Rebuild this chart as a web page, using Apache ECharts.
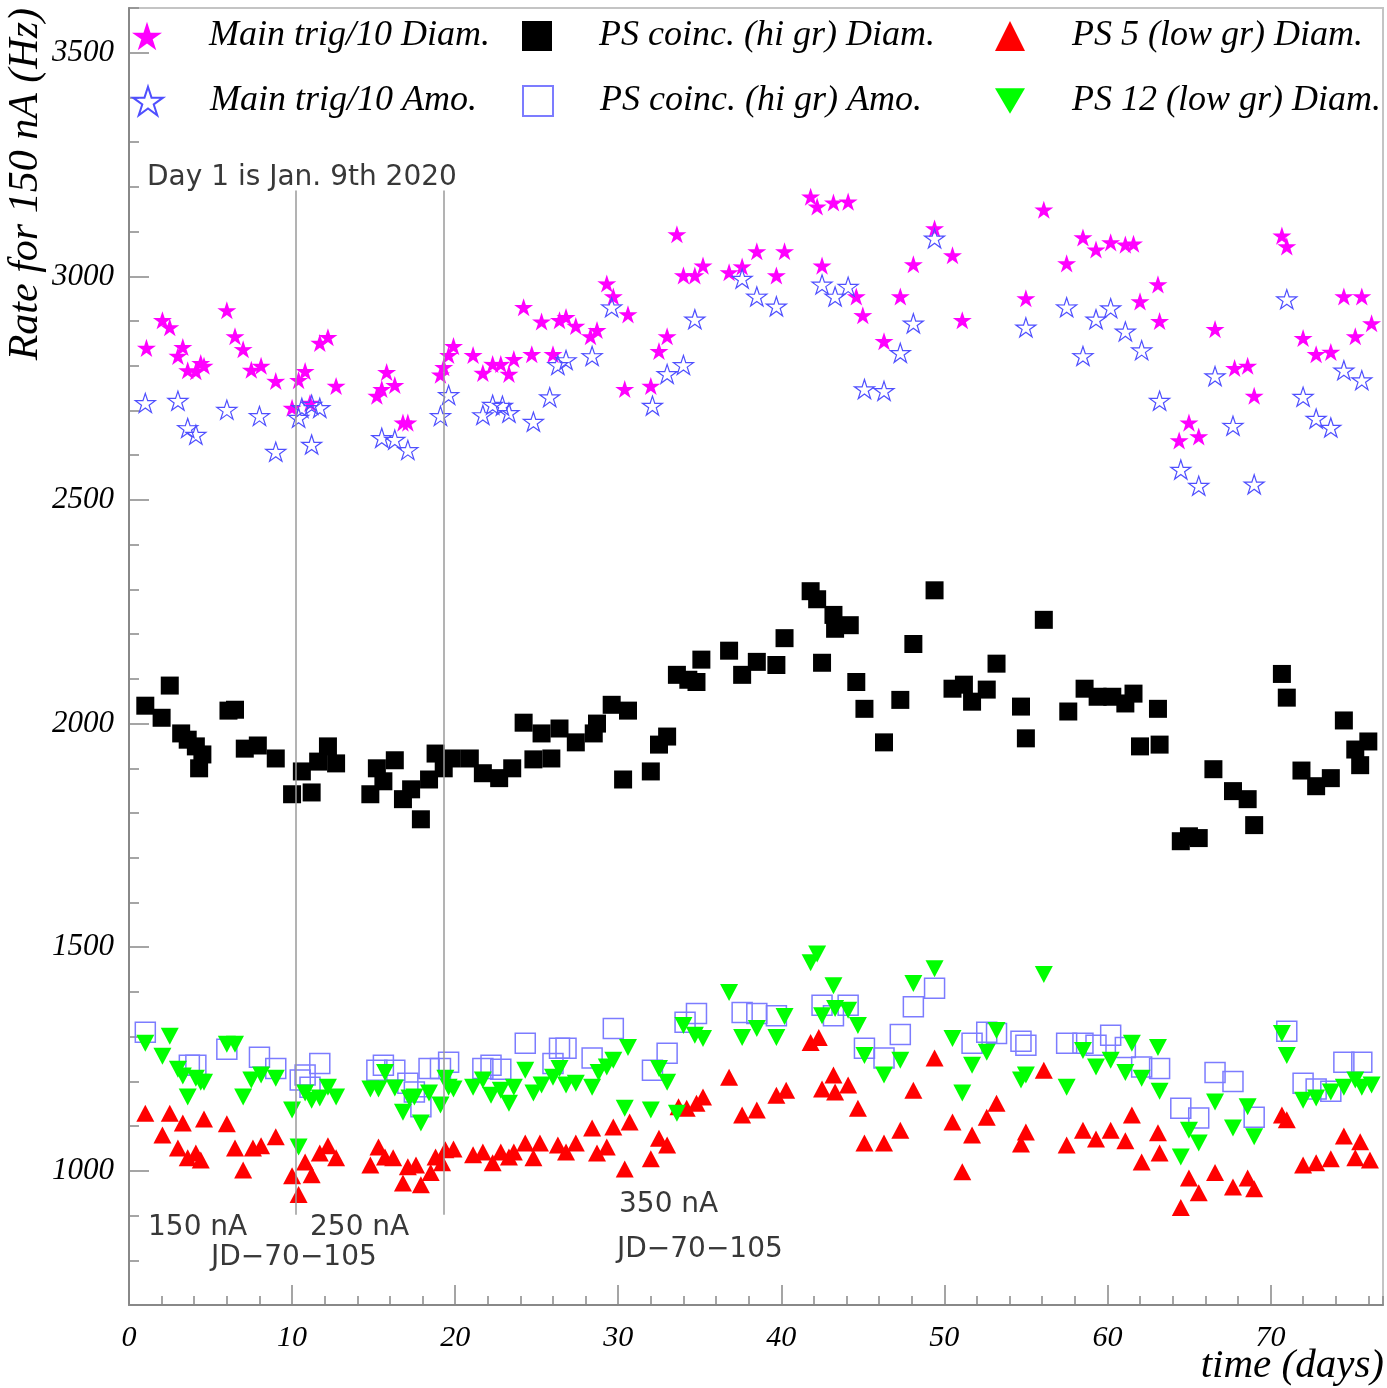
<!DOCTYPE html>
<html>
<head>
<meta charset="utf-8">
<title>Rate for 150 nA</title>
<script src="https://cdn.jsdelivr.net/npm/echarts@6/dist/echarts.min.js"></script>
<style>
  html, body { margin: 0; padding: 0; background: #fff; }
  #main { width: 1387px; height: 1388px; }
</style>
</head>
<body>
<div id="main"></div>
<script>
"use strict";

// [day, rate in Hz]
var mainDiam = [
  [1.07, 2840], [2.05, 2902], [2.5, 2886], [3.0, 2822], [3.3, 2842], [3.6, 2790], [4.1, 2788], [4.4, 2806], [4.6, 2800],
  [6.0, 2924], [6.5, 2866], [7.0, 2837], [7.5, 2791], [8.1, 2800], [9.0, 2766], [10.0, 2706], [10.4, 2768], [10.8, 2788],
  [11.1, 2717], [11.7, 2851], [12.2, 2864], [12.7, 2755], [15.2, 2733], [15.5, 2748], [15.8, 2786], [16.3, 2757],
  [16.8, 2673], [17.1, 2673], [19.1, 2780], [19.3, 2797], [19.6, 2824], [19.9, 2844], [21.1, 2824], [21.7, 2784],
  [22.3, 2804], [22.8, 2804], [23.3, 2782], [23.6, 2815], [24.2, 2931], [24.7, 2826], [25.3, 2899], [26.0, 2826],
  [26.4, 2902], [26.8, 2909], [27.4, 2889], [28.3, 2866], [28.7, 2880], [29.3, 2984], [29.7, 2955], [30.4, 2748],
  [30.6, 2915], [32.0, 2755], [32.5, 2833], [33.0, 2866], [33.6, 3094], [34.0, 3002], [34.7, 3002], [35.2, 3024],
  [36.8, 3009], [37.6, 3022], [38.5, 3056], [39.7, 3002], [40.2, 3056], [41.8, 3178], [42.2, 3156], [42.5, 3024],
  [43.2, 3165], [44.1, 3167], [44.6, 2955], [45.0, 2913], [46.3, 2855], [47.3, 2955], [48.1, 3027], [49.4, 3107],
  [50.5, 3047], [51.1, 2902], [55.0, 2951], [56.1, 3149], [57.5, 3029], [58.5, 3087], [59.3, 3060], [60.2, 3076],
  [61.1, 3071], [61.6, 3073], [62.0, 2944], [63.1, 2982], [63.2, 2900], [64.4, 2633], [65.0, 2673], [65.6, 2642],
  [66.6, 2882], [67.8, 2795], [68.6, 2800], [69.0, 2733], [70.7, 3091], [71.0, 3067], [72.0, 2862], [72.8, 2826],
  [73.7, 2831], [74.5, 2955], [75.2, 2866], [75.6, 2955], [76.2, 2895]
];

var mainAmo = [
  [1.0, 2717], [3.0, 2722], [3.6, 2661], [4.1, 2646], [6.0, 2702], [8.0, 2688], [9.0, 2608], [10.4, 2684], [10.6, 2706],
  [11.2, 2713], [11.2, 2624], [11.7, 2706], [15.5, 2639], [16.3, 2635], [17.1, 2612], [19.1, 2688], [19.6, 2735],
  [21.7, 2690], [22.3, 2713], [22.9, 2711], [23.3, 2695], [24.8, 2675], [25.8, 2730], [26.3, 2802], [26.8, 2813],
  [28.4, 2822], [29.6, 2931], [32.1, 2711], [33.0, 2782], [34.0, 2802], [34.7, 2904], [37.6, 2995], [38.5, 2955],
  [39.7, 2933], [42.5, 2982], [43.3, 2955], [44.1, 2977], [45.1, 2748], [46.3, 2744], [47.3, 2829], [48.1, 2895],
  [49.4, 3085], [55.0, 2886], [57.5, 2931], [58.5, 2822], [59.3, 2904], [60.2, 2929], [61.1, 2877], [62.1, 2835],
  [63.2, 2722], [64.5, 2568], [65.6, 2532], [66.6, 2777], [67.7, 2666], [69.0, 2535], [71.0, 2949], [72.0, 2731],
  [72.8, 2682], [73.7, 2662], [74.5, 2790], [75.6, 2768]
];

var psDiam = [
  [1.0, 2040], [2.0, 2013], [2.5, 2085], [3.2, 1978], [3.6, 1964], [4.1, 1949], [4.5, 1931], [4.3, 1900], [6.1, 2029],
  [6.5, 2031], [7.1, 1944], [7.9, 1951], [9.0, 1922], [10.0, 1842], [10.6, 1893], [11.2, 1846], [11.6, 1915],
  [12.2, 1949], [12.7, 1911], [14.8, 1842], [15.2, 1900], [15.6, 1871], [16.3, 1918], [16.8, 1831], [17.3, 1853],
  [17.9, 1786], [18.4, 1875], [18.8, 1933], [19.3, 1900], [19.8, 1922], [20.9, 1922], [21.7, 1889], [22.7, 1878],
  [23.5, 1900], [24.2, 2002], [24.8, 1920], [25.3, 1978], [25.9, 1922], [26.4, 1989], [27.4, 1958], [28.5, 1978],
  [28.7, 2000], [29.6, 2042], [30.3, 1875], [30.6, 2029], [32.0, 1893], [32.5, 1953], [33.0, 1971], [33.6, 2109],
  [34.3, 2098], [34.8, 2093], [35.1, 2143], [36.8, 2163], [37.6, 2109], [38.5, 2138], [39.7, 2131], [40.2, 2191],
  [41.8, 2296], [42.2, 2278], [42.5, 2136], [43.2, 2243], [43.3, 2212], [44.2, 2220], [44.6, 2093], [45.1, 2033],
  [46.3, 1958], [47.3, 2053], [48.1, 2178], [49.4, 2298], [50.5, 2078], [51.2, 2087], [51.7, 2049], [52.6, 2076],
  [53.2, 2134], [54.7, 2038], [55.0, 1967], [56.1, 2232], [57.6, 2027], [58.6, 2078], [59.4, 2060], [60.3, 2060],
  [61.1, 2045], [61.6, 2067], [62.0, 1949], [63.1, 2033], [63.2, 1953], [64.5, 1737], [65.0, 1748], [65.6, 1744],
  [66.5, 1898], [67.7, 1849], [68.6, 1831], [69.0, 1773], [70.7, 2111], [71.0, 2058], [71.9, 1895], [72.8, 1860],
  [73.7, 1878], [74.5, 2007], [75.2, 1942], [75.5, 1907], [76.0, 1960]
];

var psAmo = [
  [1.0, 1310], [3.7, 1236], [4.1, 1236], [6.0, 1272], [8.0, 1254], [9.0, 1229], [10.5, 1203], [10.8, 1214], [11.1, 1187],
  [11.7, 1240], [15.2, 1225], [15.6, 1236], [16.3, 1225], [17.1, 1196], [17.5, 1176], [17.9, 1143], [18.4, 1229],
  [19.1, 1229], [19.6, 1243], [21.7, 1229], [22.2, 1236], [22.8, 1227], [24.3, 1285], [26.0, 1240], [26.4, 1274],
  [26.8, 1274], [28.4, 1252], [29.7, 1318], [32.1, 1225], [33.0, 1263], [34.1, 1332], [34.8, 1352], [37.6, 1354],
  [38.5, 1352], [39.7, 1347], [42.5, 1370], [43.2, 1347], [44.1, 1370], [45.1, 1274], [46.3, 1252], [47.3, 1305],
  [48.1, 1367], [49.4, 1408], [51.7, 1285], [52.6, 1310], [53.2, 1307], [54.7, 1290], [55.0, 1281], [57.5, 1285],
  [58.5, 1285], [59.3, 1281], [60.2, 1303], [61.1, 1276], [62.1, 1232], [63.2, 1229], [64.5, 1140], [65.6, 1118],
  [66.6, 1220], [67.7, 1200], [69.0, 1120], [71.0, 1312], [72.0, 1196], [72.8, 1183], [73.7, 1178], [74.5, 1243],
  [75.6, 1243]
];

var ps5Low = [
  [1.0, 1129], [2.05, 1080], [2.5, 1129], [3.0, 1051], [3.3, 1107], [3.6, 1029], [4.1, 1040], [4.4, 1024], [4.6, 1116],
  [6.0, 1105], [6.5, 1051], [7.0, 1002], [7.6, 1051], [8.1, 1056], [9.0, 1076], [10.0, 989], [10.4, 947], [10.8, 1020],
  [11.2, 991], [11.7, 1040], [12.2, 1056], [12.7, 1029], [14.8, 1013], [15.3, 1053], [15.7, 1031], [16.2, 1029],
  [16.8, 973], [17.1, 1009], [17.6, 1013], [17.9, 969], [18.5, 996], [18.8, 1031], [19.2, 1018], [19.4, 1047],
  [19.9, 1049], [21.1, 1036], [21.7, 1042], [22.3, 1018], [22.8, 1042], [23.3, 1031], [23.6, 1042], [24.3, 1062],
  [24.8, 1029], [25.2, 1062], [26.3, 1058], [26.8, 1042], [27.4, 1062], [28.4, 1096], [28.7, 1040], [29.3, 1053],
  [29.7, 1098], [30.4, 1004], [30.7, 1109], [32.0, 1027], [32.5, 1073], [33.0, 1058], [33.7, 1143], [34.2, 1140],
  [34.8, 1151], [35.2, 1165], [36.8, 1209], [37.6, 1125], [38.5, 1136], [39.7, 1169], [40.3, 1180], [41.8, 1287],
  [42.3, 1298], [42.5, 1183], [43.2, 1214], [43.3, 1176], [44.1, 1192], [44.7, 1140], [45.1, 1062], [46.3, 1062],
  [47.3, 1091], [48.1, 1180], [49.4, 1252], [50.5, 1109], [51.1, 998], [51.7, 1080], [52.6, 1120], [53.2, 1151],
  [54.7, 1060], [55.0, 1087], [56.1, 1225], [57.5, 1058], [58.5, 1091], [59.3, 1071], [60.2, 1091], [61.1, 1067],
  [61.5, 1125], [62.1, 1020], [63.1, 1085], [63.2, 1040], [64.5, 918], [65.0, 984], [65.6, 951], [66.6, 996],
  [67.7, 964], [68.6, 984], [69.0, 960], [70.7, 1125], [71.0, 1114], [72.0, 1013], [72.8, 1018], [73.7, 1027],
  [74.5, 1078], [75.2, 1029], [75.5, 1065], [76.1, 1024]
];

var ps12Low = [
  [1.0, 1285], [2.05, 1256], [2.5, 1301], [3.0, 1227], [3.3, 1212], [3.6, 1165], [4.1, 1207], [4.4, 1198], [4.6, 1198],
  [6.0, 1283], [6.5, 1283], [7.0, 1165], [7.5, 1203], [8.1, 1214], [9.0, 1207], [10.0, 1136], [10.4, 1053], [10.8, 1174],
  [11.2, 1158], [11.7, 1163], [12.2, 1187], [12.7, 1165], [14.8, 1183], [15.3, 1183], [15.7, 1220], [16.3, 1185],
  [16.8, 1131], [17.2, 1163], [17.5, 1165], [17.9, 1107], [18.4, 1174], [19.1, 1147], [19.4, 1207], [19.6, 1187],
  [19.9, 1183], [21.1, 1187], [21.7, 1203], [22.2, 1169], [22.8, 1180], [23.3, 1151], [23.6, 1187], [24.3, 1225],
  [24.8, 1174], [25.3, 1192], [26.0, 1209], [26.4, 1229], [26.8, 1192], [27.4, 1196], [28.4, 1187], [28.8, 1220],
  [29.3, 1232], [29.7, 1247], [30.4, 1140], [30.6, 1276], [32.0, 1136], [32.5, 1229], [33.0, 1198], [33.6, 1129],
  [34.0, 1325], [34.7, 1303], [35.2, 1296], [36.8, 1399], [37.6, 1298], [38.5, 1318], [39.7, 1298], [40.2, 1345],
  [41.8, 1465], [42.2, 1485], [42.5, 1347], [43.2, 1414], [43.3, 1363], [44.1, 1359], [44.7, 1325], [45.1, 1258],
  [46.3, 1214], [47.3, 1247], [48.1, 1419], [49.4, 1452], [50.5, 1296], [51.1, 1174], [51.7, 1236], [52.6, 1265],
  [53.2, 1314], [54.7, 1203], [55.0, 1214], [56.1, 1439], [57.5, 1187], [58.5, 1269], [59.3, 1232], [60.2, 1247],
  [61.1, 1220], [61.5, 1285], [62.1, 1207], [63.1, 1276], [63.2, 1178], [64.5, 1031], [65.0, 1091], [65.6, 1062],
  [66.6, 1154], [67.7, 1096], [68.6, 1143], [69.0, 1076], [70.7, 1307], [71.0, 1258], [72.0, 1158], [72.8, 1163],
  [73.7, 1176], [74.5, 1187], [75.2, 1203], [75.6, 1187], [76.2, 1192]
];

// beam current / radiator changes
var changeDays = [10.22, 19.28];
var changeTop = 3192;
var changeBottom = 902;

var xLabels = [0, 10, 20, 30, 40, 50, 60, 70];
var yLabels = [1000, 1500, 2000, 2500, 3000, 3500];

var STAR = "path://M50,0L61.17,34.63L97.55,34.55L68.07,55.87L79.39,90.45L50,69L20.61,90.45L31.93,55.87L2.45,34.55L38.83,34.63Z";
var DOWN_TRI = "path://M0,0L20,0L10,17Z";

var serif = "'Liberation Serif', 'Times New Roman', serif";
var sans = "'DejaVu Sans', sans-serif";

var chart = echarts.init(document.getElementById("main"));

function legendAt(name, left, top, icon) {
  return {
    data: [icon ? { name: name, icon: icon } : name],
    left: left,
    top: top,
    padding: 0,
    itemWidth: 30,
    itemHeight: 30,
    selectedMode: false,
    textStyle: {
      fontFamily: serif,
      fontStyle: "italic",
      fontSize: 36,
      color: "#000",
      padding: [0, 0, 0, 42],
    },
  };
}

function note(text, x, y) {
  return {
    type: "text",
    x: x,
    y: y,
    z: 10,
    style: {
      text: text,
      fill: "#383838",
      font: "normal 28px " + sans,
      textVerticalAlign: "middle",
    },
  };
}

var tickColor = "#888";

var option = {
  animation: false,
  backgroundColor: "#fff",
  grid: {
    left: 129,
    right: 4,
    top: 8,
    bottom: 83,
    show: true,
    borderColor: "#c4c4c4",
    borderWidth: 2,
  },
  legend: [
    legendAt("Main trig/10 Diam.", 132, 18),
    legendAt("PS coinc. (hi gr) Diam.", 522, 18),
    legendAt("PS 5 (low gr) Diam.", 995, 18),
    legendAt("Main trig/10 Amo.", 132, 83),
    legendAt("PS coinc. (hi gr) Amo.", 522, 83),
    legendAt("PS 12 (low gr) Diam.", 995, 83, DOWN_TRI),
  ],
  xAxis: [
    {
      type: "value",
      min: 0,
      max: 76.9,
      interval: 2,
      position: "bottom",
      axisLine: { lineStyle: { color: tickColor, width: 2 } },
      axisTick: { inside: true, length: 9, lineStyle: { color: tickColor, width: 1.5 } },
      axisLabel: { show: false },
      splitLine: { show: false },
    },
    {
      type: "value",
      min: 0,
      max: 76.9,
      position: "bottom",
      axisLine: { show: false },
      axisTick: { inside: true, length: 20, customValues: xLabels, lineStyle: { color: tickColor, width: 1.5 } },
      axisLabel: {
        customValues: xLabels,
        margin: 18,
        fontFamily: serif,
        fontStyle: "italic",
        fontSize: 30,
        color: "#000",
        formatter: function (v) { return String(v); },
      },
      splitLine: { show: false },
    },
  ],
  yAxis: [
    {
      type: "value",
      min: 700,
      max: 3600,
      interval: 100,
      position: "left",
      axisLine: { show: true, lineStyle: { color: tickColor, width: 2 } },
      axisTick: { show: true, inside: true, length: 10, lineStyle: { color: tickColor, width: 1.5 } },
      axisLabel: { show: false },
      splitLine: { show: false },
    },
    {
      type: "value",
      min: 700,
      max: 3600,
      position: "left",
      axisLine: { show: false },
      axisTick: { show: true, inside: true, length: 20, customValues: yLabels, lineStyle: { color: tickColor, width: 1.5 } },
      axisLabel: {
        customValues: yLabels,
        margin: 15,
        fontFamily: serif,
        fontStyle: "italic",
        fontSize: 31,
        color: "#000",
        formatter: function (v) { return String(v); },
      },
      splitLine: { show: false },
    },
  ],
  graphic: [
    {
      type: "text",
      x: 26,
      y: 8,
      rotation: Math.PI / 2,
      style: {
        text: "Rate for 150 nA (Hz)",
        font: "italic 42px " + serif,
        fill: "#000",
        textAlign: "right",
        textVerticalAlign: "middle",
      },
    },
    {
      type: "text",
      x: 1384,
      y: 1366,
      style: {
        text: "time (days)",
        font: "italic 41px " + serif,
        fill: "#000",
        textAlign: "right",
        textVerticalAlign: "middle",
      },
    },
    note("Day 1 is Jan. 9th 2020", 147, 178),
    note("150 nA", 148, 1228),
    note("250 nA", 310, 1228),
    note("JD\u221270\u2212105", 211, 1258),
    note("350 nA", 619, 1205),
    note("JD\u221270\u2212105", 617, 1250),
  ],
  series: [
    {
      name: "Main trig/10 Diam.",
      type: "scatter",
      data: mainDiam,
      symbol: STAR,
      symbolSize: 19,
      symbolKeepAspect: true,
      itemStyle: { color: "#ff00ff", opacity: 1 },
      markLine: {
        silent: true,
        symbol: ["none", "none"],
        label: { show: false },
        lineStyle: { color: "#9a9a9a", width: 1.5, type: "solid" },
        data: changeDays.map(function (d) {
          return [{ coord: [d, changeTop] }, { coord: [d, changeBottom] }];
        }),
      },
    },
    {
      name: "Main trig/10 Amo.",
      type: "scatter",
      data: mainAmo,
      symbol: STAR,
      symbolSize: 20,
      symbolKeepAspect: true,
      itemStyle: { color: "rgba(255,255,255,0)", borderColor: "#4f4fff", borderWidth: 1.2, opacity: 1 },
    },
    {
      name: "PS coinc. (hi gr) Diam.",
      type: "scatter",
      data: psDiam,
      symbol: "rect",
      symbolSize: 18,
      itemStyle: { color: "#000", opacity: 1 },
    },
    {
      name: "PS coinc. (hi gr) Amo.",
      type: "scatter",
      data: psAmo,
      symbol: "rect",
      symbolSize: 20,
      itemStyle: { color: "rgba(255,255,255,0)", borderColor: "#7c7cff", borderWidth: 1.5, opacity: 1 },
    },
    {
      name: "PS 5 (low gr) Diam.",
      type: "scatter",
      data: ps5Low,
      symbol: "triangle",
      symbolSize: [18, 17],
      itemStyle: { color: "#ff0000", opacity: 1 },
    },
    {
      name: "PS 12 (low gr) Diam.",
      type: "scatter",
      data: ps12Low,
      symbol: "triangle",
      symbolSize: [18, 17],
      symbolRotate: 180,
      itemStyle: { color: "#00ff00", opacity: 1 },
    },
  ],
};

chart.setOption(option);
</script>
</body>
</html>
